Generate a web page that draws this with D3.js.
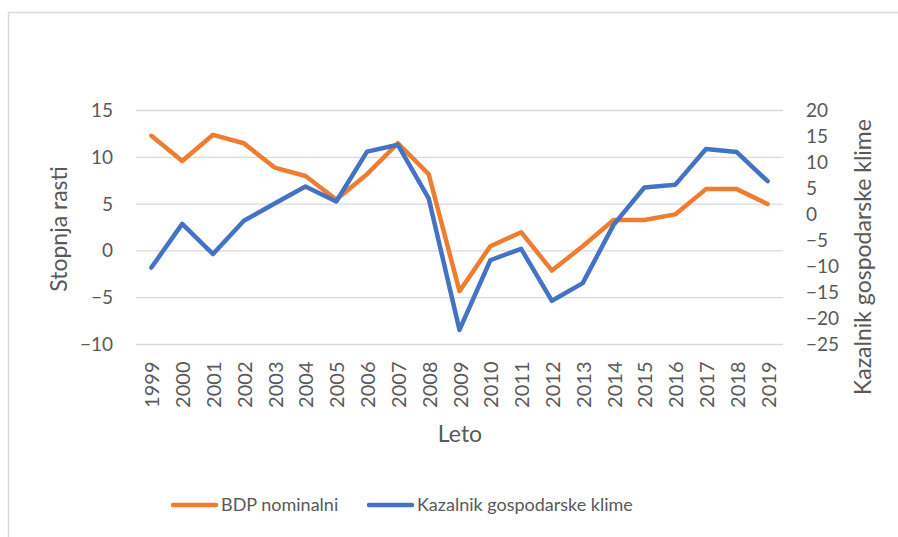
<!DOCTYPE html>
<html>
<head>
<meta charset="utf-8">
<script src="https://cdn.jsdelivr.net/npm/d3@7"></script>
<style>
  body { margin: 0; background: #fff; }
  text { font-family: Lato, "Open Sans", sans-serif; fill: #595959; }
</style>
</head>
<body>
<div id="chart"></div>
<script>
const years = ["1999","2000","2001","2002","2003","2004","2005","2006","2007","2008","2009",
  "2010","2011","2012","2013","2014","2015","2016","2017","2018","2019"];
const bdpNominalni = [12.3, 9.6, 12.4, 11.5, 8.9, 8.0, 5.5, 8.2, 11.5, 8.2, -4.3,
  0.5, 2.0, -2.1, 0.5, 3.3, 3.3, 3.9, 6.6, 6.6, 5.0];
const kazalnik = [-10.2, -1.8, -7.6, -1.2, 2.1, 5.4, 2.5, 12.1, 13.4, 3.1, -22.2,
  -8.8, -6.6, -16.6, -13.2, -2.0, 5.2, 5.7, 12.6, 12.0, 6.4];
const leftTicks = [-10, -5, 0, 5, 10, 15];
const rightTicks = [-25, -20, -15, -10, -5, 0, 5, 10, 15, 20];

const W = 898, H = 537;
const plot = { left: 136, right: 783, top: 110.5, bottom: 344.5 };

const svg = d3.select("#chart").append("svg")
  .attr("width", W).attr("height", H);

// chart frame
svg.append("rect")
  .attr("x", 8.5).attr("y", 12.5)
  .attr("width", 900).attr("height", 540)
  .attr("fill", "none").attr("stroke", "#d9d9d9").attr("stroke-width", 1.5);

const x = d3.scaleBand().domain(years).range([plot.left, plot.right]);
const yL = d3.scaleLinear().domain([-10, 15]).range([plot.bottom, plot.top]);
const yR = d3.scaleLinear().domain([-25, 20]).range([plot.bottom, plot.top]);

// gridlines
svg.append("g")
  .selectAll("line")
  .data(leftTicks)
  .join("line")
  .attr("x1", plot.left).attr("x2", plot.right)
  .attr("y1", d => yL(d)).attr("y2", d => yL(d))
  .attr("stroke", "#d9d9d9").attr("stroke-width", 1.3);

// left axis
const axL = svg.append("g")
  .attr("transform", "translate(" + plot.left + ",0)")
  .call(d3.axisLeft(yL).tickValues(leftTicks).tickSize(0).tickPadding(23));
axL.select(".domain").remove();
axL.selectAll("text").style("font-size", "19px").attr("fill", "#595959")
  .style("font-family", "Lato, sans-serif");

// right axis
const axR = svg.append("g")
  .attr("transform", "translate(" + plot.right + ",0)")
  .call(d3.axisRight(yR).tickValues(rightTicks).tickSize(0).tickPadding(23));
axR.select(".domain").remove();
axR.selectAll("text").style("font-size", "19px").attr("fill", "#595959")
  .style("font-family", "Lato, sans-serif");

// bottom axis
const axB = svg.append("g")
  .attr("transform", "translate(0," + plot.bottom + ")")
  .call(d3.axisBottom(x).tickSize(0));
axB.select(".domain").remove();
axB.selectAll("text")
  .style("font-size", "20px").attr("fill", "#595959")
  .style("font-family", "Lato, sans-serif")
  .attr("text-anchor", "end")
  .attr("dy", "0.35em")
  .attr("transform", "translate(1,17) rotate(-90)")
  .attr("x", 0).attr("y", 0);

// axis titles
svg.append("text")
  .attr("transform", "translate(67,229) rotate(-90)")
  .attr("text-anchor", "middle")
  .style("font-size", "23px")
  .text("Stopnja rasti");

svg.append("text")
  .attr("transform", "translate(871,257) rotate(-90)")
  .attr("text-anchor", "middle")
  .style("font-size", "23px")
  .text("Kazalnik gospodarske klime");

svg.append("text")
  .attr("x", 460).attr("y", 442)
  .attr("text-anchor", "middle")
  .style("font-size", "23px")
  .text("Leto");

// lines
const cx = d => x(d) + x.bandwidth() / 2;
const lineL = d3.line().x((d, i) => cx(years[i])).y(d => yL(d));
const lineR = d3.line().x((d, i) => cx(years[i])).y(d => yR(d));

svg.append("path")
  .datum(bdpNominalni)
  .attr("fill", "none").attr("stroke", "#ED7D31")
  .attr("stroke-width", 4.5).attr("stroke-linejoin", "round").attr("stroke-linecap", "round")
  .attr("d", lineL);

svg.append("path")
  .datum(kazalnik)
  .attr("fill", "none").attr("stroke", "#4472C4")
  .attr("stroke-width", 4.5).attr("stroke-linejoin", "round").attr("stroke-linecap", "round")
  .attr("d", lineR);

// legend
const legend = [
  { name: "BDP nominalni", color: "#ED7D31", x: 173 },
  { name: "Kazalnik gospodarske klime", color: "#4472C4", x: 369 }
];
const lg = svg.append("g").selectAll("g").data(legend).join("g")
  .attr("transform", d => "translate(" + d.x + ",505)");
lg.append("line")
  .attr("x1", 0).attr("x2", 43)
  .attr("stroke", d => d.color).attr("stroke-width", 4.5).attr("stroke-linecap", "round");
lg.append("text")
  .attr("x", 48).attr("dy", "0.35em")
  .style("font-size", "18px")
  .text(d => d.name);
</script>
</body>
</html>
